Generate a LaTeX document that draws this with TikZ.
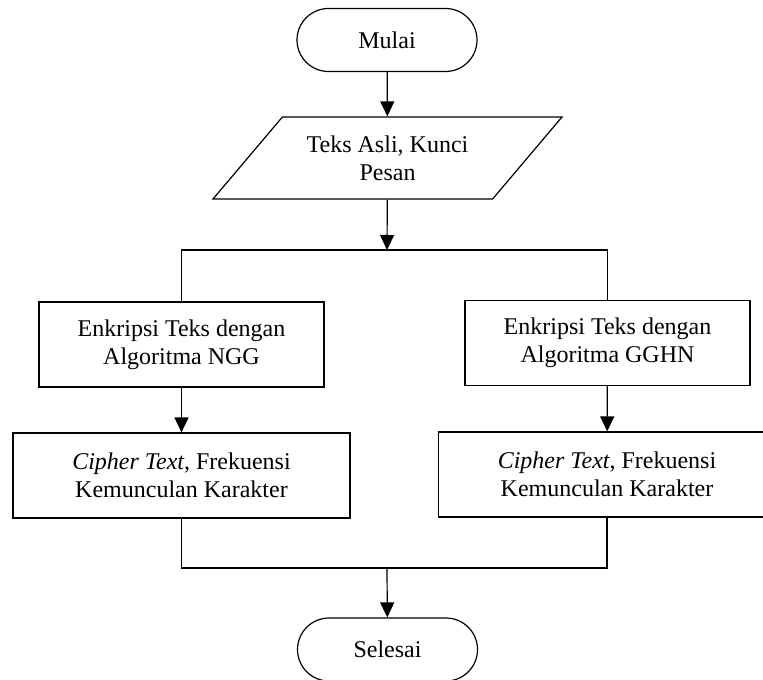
\documentclass[tikz,border=0pt]{standalone}
\usepackage{fontspec}
\setmainfont{Liberation Serif}
\usetikzlibrary{shapes.geometric, arrows.meta}

\begin{document}
\begin{tikzpicture}[x=0.5pt,y=-0.5pt,line width=0.6pt,font=\fontsize{12}{14}\selectfont]
        \tikzstyle{terminal}=[draw, rectangle, rounded corners=15.75pt, minimum width=90pt, minimum height=31.5pt, align=center]
        \tikzstyle{io}=[draw, trapezium, trapezium left angle=40, trapezium right angle=140, trapezium stretches body, minimum width=174.5pt, minimum height=41pt, align=center]
        \tikzstyle{process}=[draw, rectangle, minimum height=42.5pt, align=center]
        \tikzstyle{arrow}=[-{Triangle[length=7.5pt,width=7pt]}]

        \useasboundingbox (0,0) rectangle (763,679);

        \node[terminal] (start) at (387,40) {Mulai};
        \node[io] (input) at (387.5,158) {Teks Asli, Kunci\\Pesan};
        \node[process, minimum width=142.5pt] (nggenc) at (181.5,344.5) {Enkripsi Teks dengan\\Algoritma NGG};
        \node[process, minimum width=168.5pt] (nggout) at (181.5,475.5) {\textit{Cipher Text}, Frekuensi\\Kemunculan Karakter};
        \node[process, minimum width=142.5pt] (gghnenc) at (607.5,343) {Enkripsi Teks dengan\\Algoritma GGHN};
        \node[process, minimum width=168.5pt] (gghnout) at (607,474.5) {\textit{Cipher Text}, Frekuensi\\Kemunculan Karakter};
        \node[terminal] (stop) at (387.5,649.5) {Selesai};

        \coordinate (fork) at (387,250);
        \coordinate (join) at (387,568);

        \draw[arrow] (start) -- (input);
        \draw[arrow] (input) -- (fork);
        \draw (nggenc.north) |- (fork) -| (gghnenc.north);
        \draw[arrow] (nggenc) -- (nggout);
        \draw[arrow] (gghnenc) -- (gghnout);
        \draw (nggout.south) |- (join) -| (gghnout.south);
        \draw[arrow] (join) -- (stop);
    \end{tikzpicture}
\end{document}
